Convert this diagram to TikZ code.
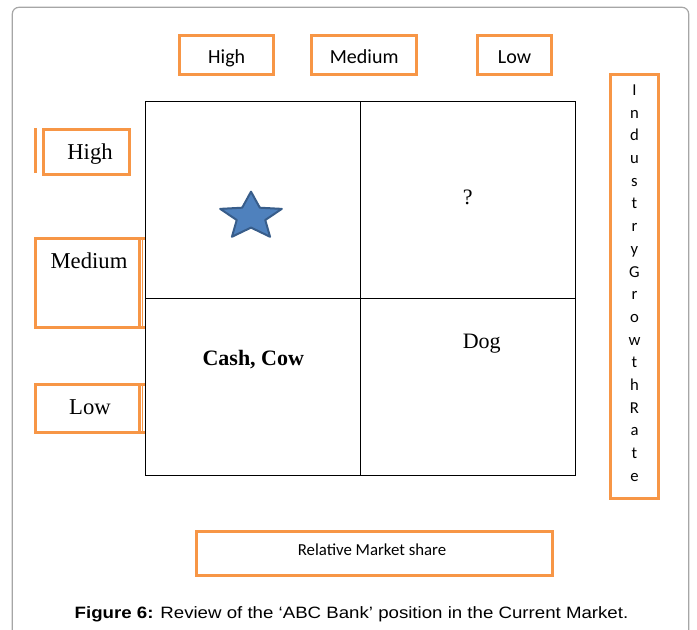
\documentclass[tikz,border=0pt]{standalone}
\usepackage{fontspec}
\setmainfont{Liberation Serif}
\newfontfamily\calibrifont{Carlito}
\newfontfamily\arialfont{Liberation Sans}

\definecolor{bcgorange}{HTML}{F79646}
\definecolor{starblue}{HTML}{4F81BD}
\definecolor{stardark}{HTML}{385D8A}
\definecolor{framegray}{HTML}{A6A6A6}

\tikzset{
    orangebox/.style={draw=bcgorange, line width=2.25pt, inner sep=0pt},
    orangeline/.style={draw=bcgorange, line width=2.25pt},
    thinorange/.style={draw=bcgorange, line width=1.1pt},
    gridline/.style={draw=black, line width=0.9pt},
    toplabel/.style={font=\calibrifont\fontsize{15}{18}\selectfont, anchor=base, inner sep=0pt},
    sidelabel/.style={font=\fontsize{17}{20}\selectfont, anchor=base, inner sep=0pt},
    celltext/.style={font=\fontsize{16.5}{20}\selectfont, anchor=base, inner sep=0pt},
    vertletter/.style={font=\calibrifont\fontsize{12.5}{14}\selectfont, anchor=base, inner sep=0pt}
}

\begin{document}
\begin{tikzpicture}[x=0.75pt, y=-0.75pt]
    \useasboundingbox (0,0) rectangle (697,630);

    % outer frame
    \draw[framegray, line width=0.9pt, rounded corners=5pt] (12.3,631) -- (12.3,7.3) -- (688.7,7.3) -- (688.7,631);

    % column headings
    \foreach \name/\txt/\cx/\w in {colhigh/High/226.7/70.3, colmed/Medium/364.2/79, collow/Low/514.5/55.5}
    {
        \node[orangebox, minimum width=\w pt, minimum height=28.8pt] (\name) at (\cx,55) {};
        \node[toplabel] (\name txt) at (\cx,63.3) {\txt};
    }

    % row headings
    \node[orangebox, minimum width=64.7pt, minimum height=33.3pt] (rowhigh) at (86.4,152.2) {};
    \draw[orangeline] (35.5,128.3) -- (35.5,172.7);
    \foreach \name/\ytop/\ybot in {rowmed/238.3/327.7, rowlow/384.3/432.3}
    {
        \draw[orangeline] (35.7,\ytop) rectangle (139,\ybot);
        \draw[orangeline] (139,\ytop) -- (145,\ytop) (139,\ybot) -- (145,\ybot);
        \draw[thinorange] (142.5,\ytop) -- (142.5,\ybot);
    }
    \node[sidelabel] (rowhightxt) at (90,160) {High};
    \node[sidelabel] (rowmedtxt) at (89,268.3) {Medium};
    \node[sidelabel] (rowlowtxt) at (90,415) {Low};

    % matrix
    \draw[gridline] (145.7,101.7) rectangle (575.3,475.3);
    \draw[gridline] (360.3,101.7) -- (360.3,475.3);
    \draw[gridline] (145.7,298.3) -- (575.3,298.3);

    % star points
    \begin{scope}[shift={(251,216.6)}]
        \foreach \a/\b [count=\i] in {90/126, 162/198, 234/270, 306/342, 18/54}
        {
            \coordinate (so\i) at (\a:24.3pt and 18.7pt);
            \coordinate (si\i) at (\b:11.25pt and 8.25pt);
        }
    \end{scope}
    \filldraw[fill=starblue, draw=stardark, line width=1.5pt, line join=round]
        (so1) -- (si1) -- (so2) -- (si2) -- (so3) -- (si3) -- (so4) -- (si4) -- (so5) -- (si5) -- cycle;

    % cell entries
    \node[celltext] (question) at (467.7,205) {?};
    \node[celltext] (dog) at (481.7,348.3) {Dog};
    \node[celltext, font=\fontsize{16.5}{20}\selectfont\bfseries] (cashcow) at (253.3,366) {Cash, Cow};

    % vertical axis title
    \node[orangebox, minimum width=36pt, minimum height=318pt] (growth) at (634.5,286.5) {};
    \foreach \ch [count=\i] in {I,n,d,u,s,t,r,y,G,r,o,w,t,h,R,a,t,e}
        \node[vertletter] (growth\i) at (634.5,{72.8+22.7*\i}) {\ch};

    % horizontal axis title
    \node[orangebox, minimum width=267pt, minimum height=33.2pt] (share) at (374.5,553.7) {};
    \node[toplabel, font=\calibrifont\fontsize{12.6}{15}\selectfont] (sharetxt) at (372,556) {Relative Market share};

    % caption
    \node[anchor=base, inner sep=0pt, font=\arialfont\fontsize{14}{16}\selectfont] (caption) at (351.5,619)
        {\scalebox{1}[0.88]{\textbf{Figure 6:} Review of the ‘ABC Bank’ position in the Current Market.}};
\end{tikzpicture}
\end{document}
